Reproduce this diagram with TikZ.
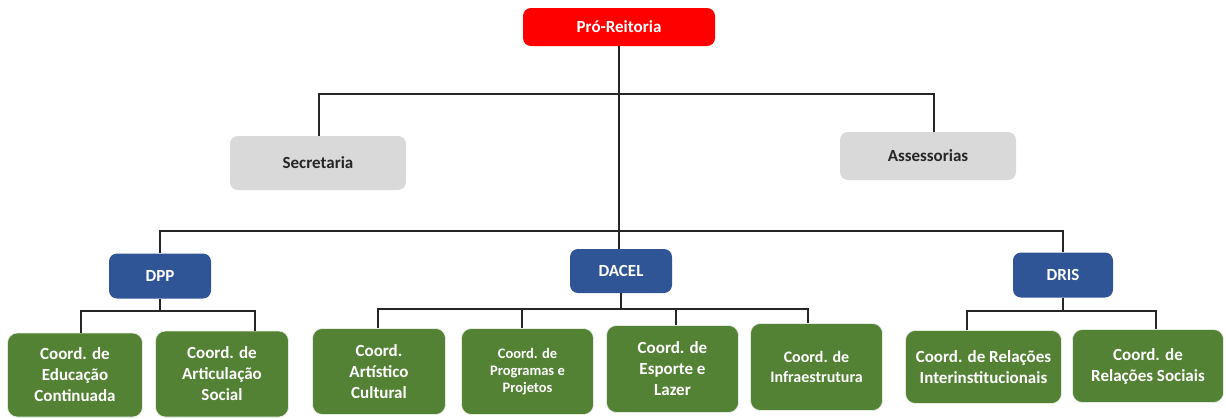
\documentclass[tikz,border=0pt]{standalone}
\usepackage{fontspec}
\setmainfont{Carlito}
\definecolor{cred}{HTML}{FF0000}
\definecolor{cgray}{HTML}{D9D9D9}
\definecolor{cblue}{HTML}{2F5597}
\definecolor{cgreen}{HTML}{548235}
\definecolor{ctext}{HTML}{262626}
\definecolor{cline}{HTML}{262626}
\tikzset{
  box/.style={rounded corners=8pt, inner sep=2pt, align=center, font=\bfseries\fontsize{17}{21}\selectfont},
  redbox/.style={box, fill=cred, text=white, minimum width=192pt, minimum height=38pt},
  graybox/.style={box, fill=cgray, text=ctext, minimum width=176pt},
  bluebox/.style={box, fill=cblue, text=white, minimum width=102pt, minimum height=45pt},
  greenbox/.style={box, rounded corners=10pt, fill=cgreen, text=white, draw=white!85!cgreen, line width=0.6pt},
  conn/.style={draw=cline, line width=1.3pt}
}
\begin{document}
\begin{tikzpicture}[x=1pt,y=-1pt]
\useasboundingbox (0,0) rectangle (1226,418);
\node[redbox] (pro) at (619,27) {Pró-Reitoria};
\node[graybox, minimum height=54pt] (sec) at (318,163) {Secretaria};
\node[graybox, minimum height=48pt] (ass) at (928,156) {Assessorias};
\node[bluebox] (dpp) at (160,276) {DPP};
\node[bluebox, minimum height=44pt] (dacel) at (621,271) {DACEL};
\node[bluebox, minimum width=100pt] (dris) at (1063,275) {DRIS};

\node[greenbox, minimum width=135pt, minimum height=84pt] (edu) at (75,375) {Coord. de\\Educação\\Continuada};
\node[greenbox, minimum width=133pt, minimum height=86pt] (arti) at (222,374) {Coord. de\\Articulação\\Social};
\node[greenbox, minimum width=133pt, minimum height=86pt] (art) at (379,371.5) {Coord.\\Artístico\\Cultural};
\node[greenbox, minimum width=132pt, minimum height=86pt, font=\bfseries\fontsize{14.5}{17}\selectfont] (prog) at (527.5,371.5) {Coord. de\\Programas e\\Projetos};
\node[greenbox, minimum width=132pt, minimum height=87pt] (esp) at (672.5,369) {Coord. de\\Esporte e\\Lazer};
\node[greenbox, minimum width=132pt, minimum height=87pt, font=\bfseries\fontsize{16}{20}\selectfont] (inf) at (816.5,367) {Coord. de\\Infraestrutura};
\node[greenbox, minimum width=156pt, minimum height=73pt] (rint) at (983.5,367) {Coord. de Relações\\Interinstitucionais};
\node[greenbox, minimum width=151pt, minimum height=73pt] (rsoc) at (1148,366) {Coord. de\\Relações Sociais};

\coordinate (y1) at (0,94);
\coordinate (y2) at (0,231);
\coordinate (y3) at (0,311);
\coordinate (y4) at (0,309);

\draw[conn] (pro.south) -- (pro.south |- dacel.north);
\draw[conn] ([xshift=1pt]sec.north) |- (pro.south |- y1) -| ([xshift=6pt]ass.north);
\draw[conn] (dpp.north) |- (pro.south |- y2) -| (dris.north);

\draw[conn] (dpp.south) -- (dpp.south |- y3);
\draw[conn] ([xshift=6pt]edu.north) |- (dpp.south |- y3) -| ([xshift=33pt]arti.north);

\draw[conn] (dacel.south) -- (dacel.south |- y4);
\draw[conn] ([xshift=-1pt]art.north) |- (dacel.south |- y4) -| ([xshift=-8.5pt]inf.north);
\draw[conn] ([xshift=-5.5pt]prog.north) -- ([xshift=-5.5pt]prog.north |- y4);
\draw[conn] ([xshift=3.5pt]esp.north) -- ([xshift=3.5pt]esp.north |- y4);

\draw[conn] (dris.south) -- (dris.south |- y3);
\draw[conn] ([xshift=-16.5pt]rint.north) |- (dris.south |- y3) -| ([xshift=8pt]rsoc.north);
\end{tikzpicture}
\end{document}
